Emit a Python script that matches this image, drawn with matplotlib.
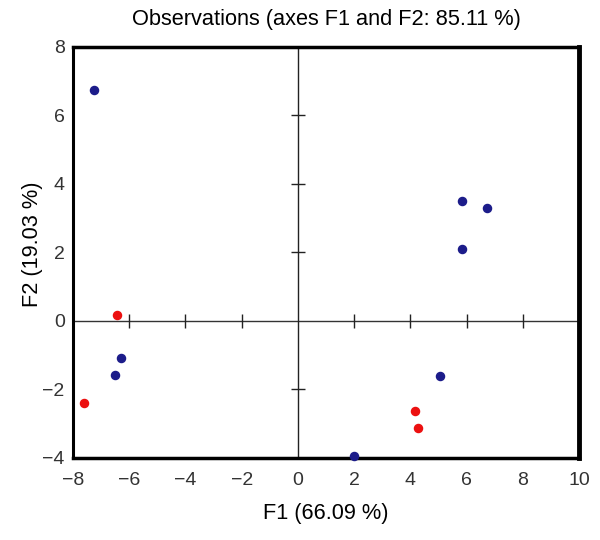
import matplotlib
matplotlib.use("Agg")
import matplotlib.pyplot as plt

# observation scores on F1 / F2
blue_f1 = [-7.24, 5.82, 6.71, 5.82, -6.28, -6.49, 5.07, 2.01]
blue_f2 = [6.74, 3.50, 3.30, 2.10, -1.08, -1.58, -1.61, -3.94]
red_f1 = [-6.42, -7.60, 4.18, 4.29]
red_f2 = [0.18, -2.39, -2.63, -3.12]

x_ticks = [-8, -6, -4, -2, 0, 2, 4, 6, 8, 10]
y_ticks = [-4, -2, 0, 2, 4, 6, 8]

title = "Observations (axes F1 and F2: 85.11 %)"
x_label = "F1 (66.09 %)"
y_label = "F2 (19.03 %)"

plt.rcParams['font.family'] = ['Liberation Sans', 'DejaVu Sans']

fig = plt.figure(figsize=(6, 5.4), dpi=100)
ax = fig.add_axes([0.1217, 0.1519, 0.8433, 0.7611])

ax.set_xlim(-8, 10)
ax.set_ylim(-4, 8)

# center axes through the origin
ax.axhline(0, color='#333333', lw=1.0, zorder=1)
ax.axvline(0, color='#222222', lw=1.0, zorder=1)
inner_x = [t for t in x_ticks if t not in (x_ticks[0], 0, x_ticks[-1])]
inner_y = [t for t in y_ticks if t not in (y_ticks[0], 0, y_ticks[-1])]
ax.plot(inner_x, [0] * len(inner_x), ls='none', marker='|', ms=10, mew=1.0, color='#222222', zorder=1)
ax.plot([0] * len(inner_y), inner_y, ls='none', marker='_', ms=10, mew=1.0, color='#222222', zorder=1)

ax.scatter(blue_f1, blue_f2, s=34, color='#1c1c8a', zorder=3, clip_on=False)
ax.scatter(red_f1, red_f2, s=34, color='#ec1010', zorder=3, clip_on=False)

ax.set_xticks(x_ticks)
ax.set_yticks(y_ticks)
ax.set_xticklabels([f"{t}".replace('-', '\u2212') for t in x_ticks])
ax.set_yticklabels([f"{t}".replace('-', '\u2212') for t in y_ticks])
ax.tick_params(axis='x', length=0, pad=10, labelsize=14, labelcolor='#333333')
ax.tick_params(axis='y', length=0, pad=6, labelsize=14, labelcolor='#333333')

for side, lw in [('left', 2.2), ('bottom', 2.5), ('top', 2.5), ('right', 3.5)]:
    ax.spines[side].set_linewidth(lw)
    ax.spines[side].set_color('black')

ax.set_title(title, fontsize=15.7, pad=16)
ax.set_xlabel(x_label, fontsize=15.7, labelpad=10)
ax.set_ylabel(y_label, fontsize=15.7)
ax.yaxis.set_label_coords(-0.06, 0.52)

fig.savefig("out.png", dpi=100)
